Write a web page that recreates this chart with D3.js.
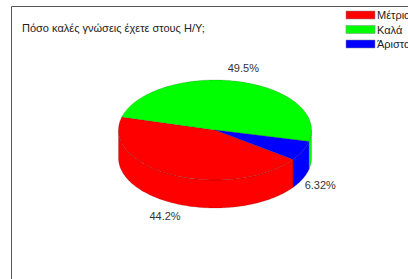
<!DOCTYPE html>
<html>
<head>
<meta charset="utf-8">
<script src="https://cdn.jsdelivr.net/npm/d3@7"></script>
<style>
html,body{margin:0;padding:0;background:#fff;}
svg{display:block;}
text{font-family:"Liberation Sans",Arial,sans-serif;}
</style>
</head>
<body>
<svg id="chart" width="408" height="279"></svg>
<script>
// ---- data ----
const title = "Πόσο καλές γνώσεις έχετε στους Η/Υ;";
const categories = ["Μέτρια", "Καλά", "Άριστα"];
const values = [44.2, 49.5, 6.32];
const labels = ["44.2%", "49.5%", "6.32%"];
const colors = ["#ff0000", "#00ff00", "#0000ff"];

// ---- layout ----
const W = 408, H = 279;
const cx = 215, cy = 130, rx = 96.5, ry = 50, depth = 28;
const svg = d3.select("#chart");

// frame
svg.append("path")
  .attr("d", `M${W+2},6.5 H11.5 V${H+2}`)
  .attr("fill", "none").attr("stroke", "#555").attr("stroke-width", 1);

// title
svg.append("text").attr("x", 22).attr("y", 32)
  .attr("font-size", 11).attr("fill", "#222").text(title);

const color = d3.scaleOrdinal().domain(categories).range(colors);

// pie angles (d3: 0 at 12 o'clock, clockwise)
const start = 126 * Math.PI / 180;
const pie = d3.pie().sort(null).startAngle(start).endAngle(start + 2 * Math.PI);
const arcs = pie(values).map((d, i) => ({...d, cat: categories[i], label: labels[i]}));

// screen angle (0 = 3 o'clock, clockwise since y down)
const toT = a => a - Math.PI / 2;
const pt = (t, dy = 0) => [cx + rx * Math.cos(t), cy + ry * Math.sin(t) + dy];
const line = d3.line();

function samples(t0, t1) {
  const n = Math.max(2, Math.ceil(Math.abs(t1 - t0) / 0.02));
  return d3.range(n + 1).map(k => t0 + (t1 - t0) * k / n);
}

const gSide = svg.append("g"), gTop = svg.append("g");

arcs.forEach(d => {
  const t0 = toT(d.startAngle), t1 = toT(d.endAngle);
  // side: intersection with front half [0, PI] (mod 2PI)
  for (let k = -1; k <= 2; k++) {
    const a = Math.max(t0, k * 2 * Math.PI), b = Math.min(t1, k * 2 * Math.PI + Math.PI);
    if (b > a) {
      const ts = samples(a, b);
      const poly = ts.map(t => pt(t)).concat(ts.slice().reverse().map(t => pt(t, depth)));
      gSide.append("path").attr("d", line(poly) + "Z")
        .attr("fill", color(d.cat))
        .attr("stroke", "#000").attr("stroke-opacity", 0.25).attr("stroke-width", 0.6)
        .attr("stroke-linejoin", "round");
    }
  }
  // top face
  const ts = samples(t0, t1);
  const poly = [[cx, cy]].concat(ts.map(t => pt(t)));
  gTop.append("path").attr("d", line(poly) + "Z")
    .attr("fill", color(d.cat))
    .attr("stroke", "#000").attr("stroke-opacity", 0.25).attr("stroke-width", 0.6)
    .attr("stroke-linejoin", "round");
});

// labels
const kx = 1.2, ky = 1.28;
arcs.forEach(d => {
  const tm = toT((d.startAngle + d.endAngle) / 2);
  const s = Math.sin(tm);
  const x = cx + kx * rx * Math.cos(tm);
  const y = cy + ky * ry * s + (s > 0 ? depth : 0) + 4;
  svg.append("text").attr("x", x).attr("y", y)
    .attr("text-anchor", "middle").attr("font-size", 11).attr("fill", "#333")
    .text(d.label);
});

// legend
const leg = svg.append("g");
categories.forEach((c, i) => {
  const y = 11 + i * 14.5;
  leg.append("rect").attr("x", 346).attr("y", y).attr("width", 29).attr("height", 8)
    .attr("fill", color(c)).attr("stroke", "#888").attr("stroke-width", 0.5);
  leg.append("text").attr("x", 377).attr("y", y + 8)
    .attr("font-size", 11).attr("fill", "#222").text(c);
});
</script>
</body>
</html>
